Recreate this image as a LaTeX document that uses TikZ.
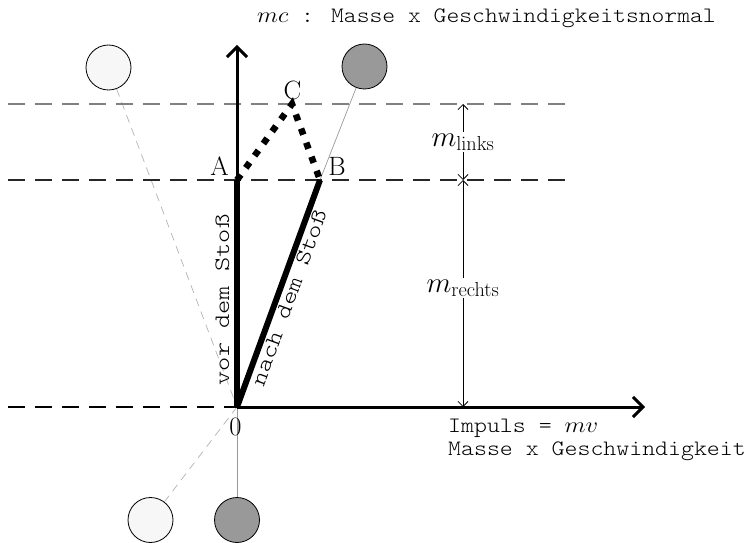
\RequirePackage{fix-cm}
\documentclass[tikz,border=0pt]{standalone}
\usetikzlibrary{arrows.meta}
\begin{document}
\begin{tikzpicture}[x=1pt,y=1pt,
  tt/.style={font=\ttfamily\fontseries{l}\fontsize{22}{23}\selectfont, inner sep=0pt},
  lbl/.style={font=\fontsize{26.5}{28}\selectfont, inner sep=0pt},
  mlbl/.style={font=\fontsize{29}{31}\selectfont, fill=white, inner sep=2pt},
  hdash/.style={line width=1.2pt, dash pattern=on 17pt off 10pt},
  axis/.style={line width=3pt, -{Straight Barb[length=10pt,width=20pt]}},
  vec/.style={line width=5.5pt},
  dots/.style={line width=6.5pt, dash pattern=on 6.5pt off 8.5pt},
  dim/.style={line width=0.8pt, {Straight Barb[length=5pt,width=10pt]}-{Straight Barb[length=5pt,width=10pt]}},
  ball/.style={circle, draw, line width=0.8pt, minimum size=45pt, inner sep=0pt},
  guide/.style={gray!80, line width=0.7pt},
  ]
\useasboundingbox (0,0) rectangle (748,542);
% key points
\coordinate (O) at (237,135);
\coordinate (A) at (237,362);
\coordinate (B) at (320,362);
\coordinate (C) at (292,438);
\coordinate (Ytip) at (237,497);
\coordinate (Xtip) at (645,135);
\coordinate (D1) at (463,438);
\coordinate (D2) at (463,362);
\coordinate (D3) at (463,135);
\coordinate (H1a) at (8,438);  \coordinate (H1b) at (570,438);
\coordinate (H2a) at (8,362);  \coordinate (H2b) at (570,362);
\coordinate (H3a) at (8,135);
% balls
\node[ball, fill=black!3] (c1) at (108.5,474.5) {};
\node[ball, fill=black!40] (c2) at (364.5,475.5) {};
\node[ball, fill=black!3] (c3) at (150.5,22) {};
\node[ball, fill=black!40] (c4) at (237,22) {};
% guide lines
\draw[guide] (c2) -- (B);
\draw[guide, gray!60, dash pattern=on 8pt off 6pt] (c1) -- (O);
\draw[guide, gray!60, dash pattern=on 8pt off 6pt] (O) -- (c3);
\draw[guide] (O) -- (c4);
% dashed horizontals
\draw[hdash, gray] (H1a) -- (H1b);
\draw[hdash, black!85] (H2a) -- (H2b);
\draw[hdash] (H3a) -- (O);
% axes
\draw[axis] (O) -- (Ytip);
\draw[axis] (O) -- (Xtip);
% vectors
\draw[vec] (O) -- (A);
\draw[vec, line width=6pt] (O) -- (B);
\draw[dots] (A) -- (C) -- (B);
% dimension
\draw[dim] (D1) -- (D2);
\draw[dim] (D2) -- (D3);
\node[mlbl] (ml) at (463,400) {$m_{\mathrm{links}}$};
\node[mlbl] (mr) at (463,254) {$m_{\mathrm{rechts}}$};
% point labels
\node[lbl] (lA) at (219.5,376) {A};
\node[lbl] (lB) at (337,376) {B};
\node[lbl] (lC) at (292.5,451.5) {C};
\node[lbl] (lO) at (235.5,115) {0};
% vector labels
\node[rotate=90, tt, xscale=1.23] (vor) at (222.5,242) {vor dem Sto\ss};
\node[rotate=69.9, tt, xscale=1.23] (nach) at (289,244) {nach dem Sto\ss};
% axis labels
\node[tt, xscale=1.11, anchor=west] (top) at (257,524) {$mc$ : Masse x Geschwindigkeitsnormal};
\node[tt, xscale=1.12, anchor=north west, align=left] (imp) at (448,123) {Impuls = $mv$\\Masse x Geschwindigkeit};
\end{tikzpicture}
\end{document}
